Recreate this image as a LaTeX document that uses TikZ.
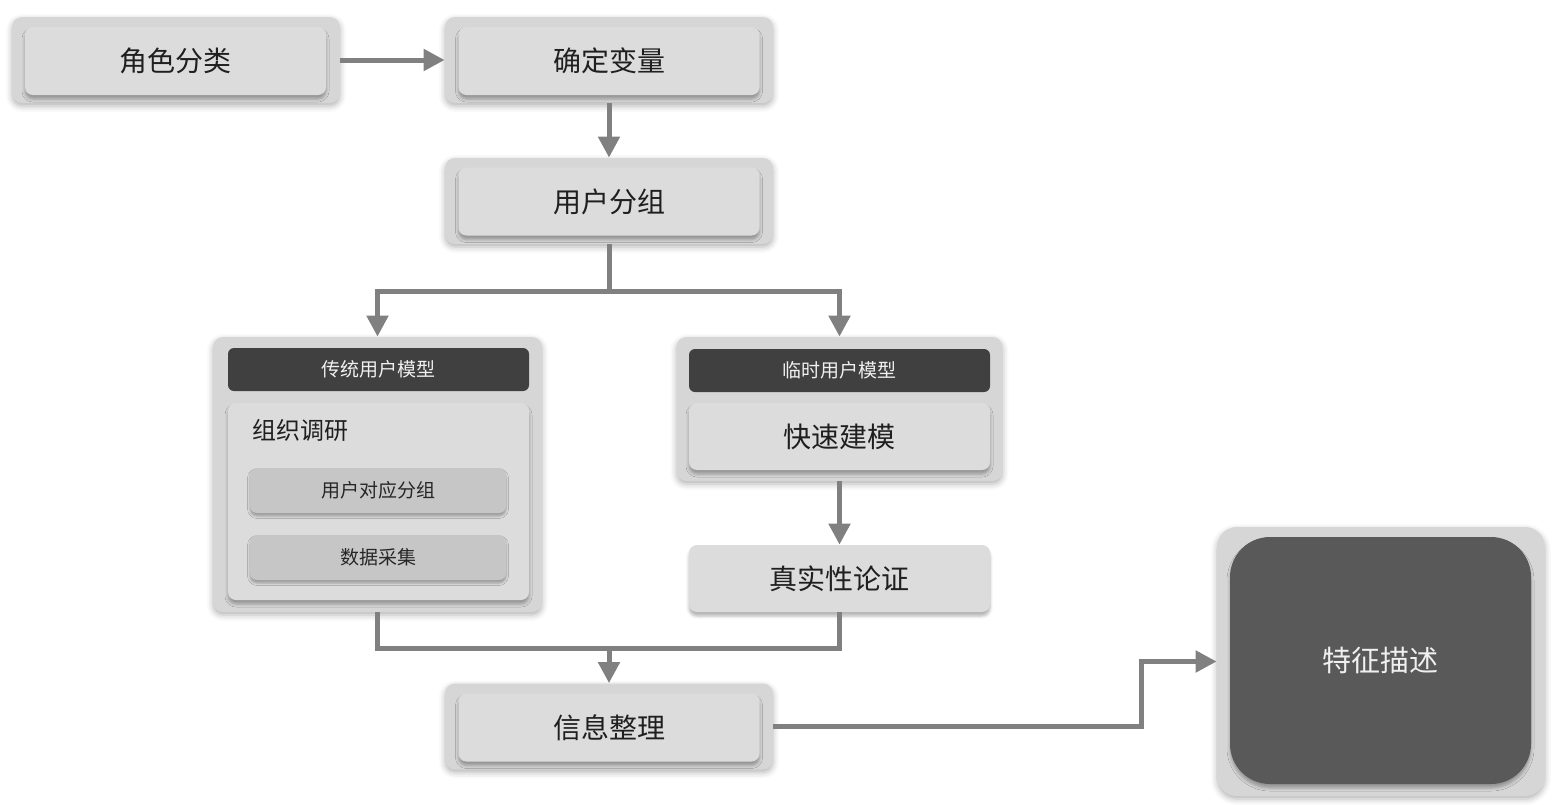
\documentclass[tikz,border=0pt]{standalone}
\usepackage{fontspec}
\setmainfont{Noto Sans CJK SC}
\usepackage{tikz}
\usetikzlibrary{arrows.meta,positioning,shadows.blur}
\definecolor{frm}{HTML}{D6D6D6}
\definecolor{crd}{HTML}{DCDCDC}
\definecolor{subcrd}{HTML}{C6C6C6}
\definecolor{hdr}{HTML}{404040}
\definecolor{dark}{HTML}{595959}
\definecolor{lnk}{HTML}{808080}

\begin{document}
\begin{tikzpicture}[x=0.5pt,y=-0.5pt,
  outer/.style={fill=frm,rounded corners=5pt,inner sep=0pt,minimum width=164pt,minimum height=43pt,
    blur shadow={shadow xshift=0pt,shadow yshift=-1.5pt,shadow blur radius=3pt,shadow opacity=30}},
  card/.style={fill=crd,rounded corners=4pt,inner sep=0pt,minimum width=150.5pt,minimum height=34pt,
    text=black!88,font=\fontsize{14pt}{16pt}\selectfont,
    blur shadow={shadow xshift=0pt,shadow yshift=-2pt,shadow blur radius=1.5pt,shadow opacity=30}},
  head/.style={fill=hdr,rounded corners=3pt,inner sep=0pt,minimum width=150.5pt,minimum height=21.5pt,
    text=white!94!black,font=\fontsize{9.5pt}{11pt}\selectfont},
  subcard/.style={fill=subcrd,rounded corners=3.5pt,inner sep=0pt,minimum width=128pt,minimum height=22.5pt,
    text=black!85,font=\fontsize{9.5pt}{11pt}\selectfont,
    blur shadow={shadow xshift=0pt,shadow yshift=-1.5pt,shadow blur radius=1.2pt,shadow opacity=30}},
  pipe/.style={draw=lnk,line width=2.5pt},
  flow/.style={pipe,-{Triangle[length=10.5pt,width=10.5pt]}}]
\useasboundingbox (0,0) rectangle (1557,804);

% top row
\node[outer] (roleF) at (176,60) {};
\node[card] (role) at (175.5,61) {角色分类};
\node[outer] (varF) at (609,60) {};
\node[card] (var) at (609,61) {确定变量};
\node[outer] (groupF) at (609,201) {};
\node[card] (group) at (609,201.5) {用户分组};

% traditional model
\node[outer,minimum width=164.5pt,minimum height=137.5pt] (tradF) at (377.5,474.5) {};
\node[head] (tradH) at (378.5,369.5) {传统用户模型};
\node[card,minimum height=98.5pt] (survey) at (378.5,501.5) {};
\node[anchor=west,text=black!88,font=\fontsize{12pt}{14pt}\selectfont] (surveyT) at (245,430) {组织调研};
\node[subcard] (match) at (378,490.5) {用户对应分组};
\node[subcard] (collect) at (378,557.5) {数据采集};

% temporary model
\node[outer,minimum width=163pt,minimum height=72pt] (tmpF) at (839.5,409) {};
\node[head] (tmpH) at (839.5,370.5) {临时用户模型};
\node[card,minimum height=33.5pt] (fast) at (839.5,436.5) {快速建模};
\node[card,minimum height=33.5pt] (real) at (839.5,578.5) {真实性论证};

% bottom
\node[outer] (infoF) at (609,726.5) {};
\node[card] (info) at (609,727.5) {信息整理};
\node[outer,rounded corners=10pt,minimum height=134.5pt] (featF) at (1381,661.5) {};
\node[card,fill=dark,text=white!94!black,rounded corners=20pt,minimum height=123.5pt,
  font=\fontsize{14.5pt}{16pt}\selectfont] (feat) at (1380.5,660.5) {特征描述};

\coordinate (split) at (609,291);
\coordinate (merge) at (609,648);
\coordinate (bend) at (1141,700);

\draw[flow] (roleF) -- (varF);
\draw[flow] (varF) -- (groupF);
\draw[pipe] (groupF.south) -- (split);
\draw[flow] (split) -| (tradF.north);
\draw[flow] (split) -| (tmpF.north);
\draw[flow] (tmpF.south) -- (real.north);
\draw[pipe] (tradF.south) |- (merge) -| (real.south);
\draw[flow] (merge) -- (infoF.north);
\draw[flow] (infoF.east) -| (bend) |- (featF.west);
\end{tikzpicture}
\end{document}
